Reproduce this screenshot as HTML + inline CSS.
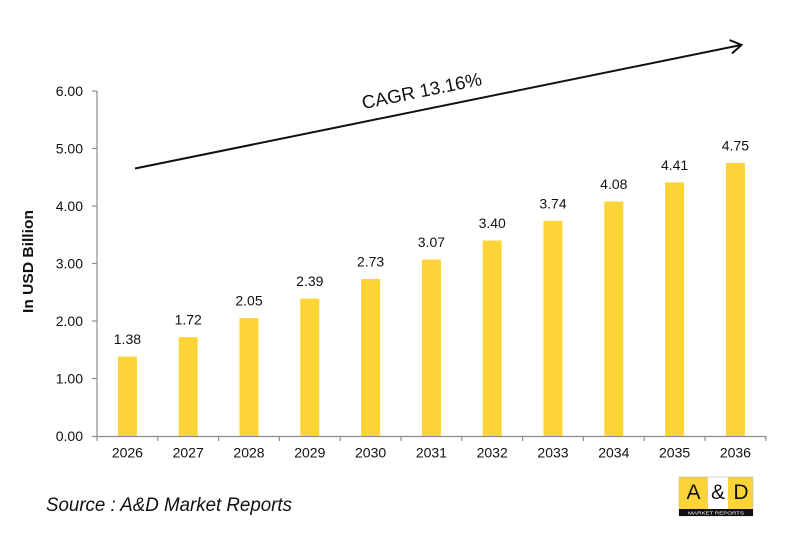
<!DOCTYPE html>
<html>
<head>
<meta charset="utf-8">
<style>
html,body{margin:0;padding:0;background:#fff;}
svg{display:block;}
text{font-family:"Liberation Sans",sans-serif;fill:#111;}
</style>
</head>
<body>
<svg width="800" height="533" viewBox="0 0 800 533" xmlns="http://www.w3.org/2000/svg">
<rect width="800" height="533" fill="#fff"/>
<!-- axes -->
<line x1="97" y1="91" x2="97" y2="436.5" stroke="#8c8c8c" stroke-width="1.2"/>
<line x1="92" y1="436.5" x2="766" y2="436.5" stroke="#8c8c8c" stroke-width="1.2"/>
<g stroke="#8c8c8c" stroke-width="1.2">
<line x1="92" y1="91" x2="97" y2="91"/>
<line x1="92" y1="148.5" x2="97" y2="148.5"/>
<line x1="92" y1="206" x2="97" y2="206"/>
<line x1="92" y1="263.5" x2="97" y2="263.5"/>
<line x1="92" y1="321" x2="97" y2="321"/>
<line x1="92" y1="378.5" x2="97" y2="378.5"/>
<line x1="97" y1="436" x2="97" y2="441"/>
<line x1="157.8" y1="436" x2="157.8" y2="441"/>
<line x1="218.6" y1="436" x2="218.6" y2="441"/>
<line x1="279.4" y1="436" x2="279.4" y2="441"/>
<line x1="340.2" y1="436" x2="340.2" y2="441"/>
<line x1="401" y1="436" x2="401" y2="441"/>
<line x1="461.8" y1="436" x2="461.8" y2="441"/>
<line x1="522.6" y1="436" x2="522.6" y2="441"/>
<line x1="583.4" y1="436" x2="583.4" y2="441"/>
<line x1="644.2" y1="436" x2="644.2" y2="441"/>
<line x1="705" y1="436" x2="705" y2="441"/>
<line x1="765.8" y1="436" x2="765.8" y2="441"/>
</g>
<!-- y tick labels -->
<g font-size="14" text-anchor="end">
<text x="83" y="96">6.00</text>
<text x="83" y="153.5">5.00</text>
<text x="83" y="211">4.00</text>
<text x="83" y="268.5">3.00</text>
<text x="83" y="326">2.00</text>
<text x="83" y="383.5">1.00</text>
<text x="83" y="441">0.00</text>
</g>
<!-- y title -->
<text transform="translate(33,261.5) rotate(-90)" font-size="15" font-weight="bold" text-anchor="middle" textLength="103" lengthAdjust="spacingAndGlyphs">In USD Billion</text>
<!-- bars -->
<g fill="#FDD438">
<rect x="117.9" y="356.6" width="19" height="79.4"/>
<rect x="178.7" y="337.1" width="19" height="98.9"/>
<rect x="239.5" y="318.1" width="19" height="117.9"/>
<rect x="300.3" y="298.6" width="19" height="137.4"/>
<rect x="361.1" y="279.0" width="19" height="157.0"/>
<rect x="421.9" y="259.5" width="19" height="176.5"/>
<rect x="482.7" y="240.5" width="19" height="195.5"/>
<rect x="543.5" y="220.9" width="19" height="215.1"/>
<rect x="604.3" y="201.4" width="19" height="234.6"/>
<rect x="665.1" y="182.4" width="19" height="253.6"/>
<rect x="725.9" y="162.9" width="19" height="273.1"/>
</g>
<!-- value labels -->
<g font-size="14" text-anchor="middle">
<text x="127.4" y="344">1.38</text>
<text x="188.2" y="324.5">1.72</text>
<text x="249" y="305.5">2.05</text>
<text x="309.8" y="286">2.39</text>
<text x="370.6" y="266.5">2.73</text>
<text x="431.4" y="247">3.07</text>
<text x="492.2" y="228">3.40</text>
<text x="553" y="208.5">3.74</text>
<text x="613.8" y="189">4.08</text>
<text x="674.6" y="170">4.41</text>
<text x="735.4" y="150.5">4.75</text>
</g>
<!-- x labels -->
<g font-size="14" text-anchor="middle">
<text x="127.4" y="457.5">2026</text>
<text x="188.2" y="457.5">2027</text>
<text x="249" y="457.5">2028</text>
<text x="309.8" y="457.5">2029</text>
<text x="370.6" y="457.5">2030</text>
<text x="431.4" y="457.5">2031</text>
<text x="492.2" y="457.5">2032</text>
<text x="553" y="457.5">2033</text>
<text x="613.8" y="457.5">2034</text>
<text x="674.6" y="457.5">2035</text>
<text x="735.4" y="457.5">2036</text>
</g>
<!-- CAGR arrow -->
<line x1="135" y1="168.5" x2="741" y2="45" stroke="#111" stroke-width="2"/>
<polyline points="729.5,40 741.5,45 732,53.5" fill="none" stroke="#111" stroke-width="2" stroke-linejoin="miter"/>
<text transform="translate(423,97) rotate(-11.5)" font-size="18.5" text-anchor="middle" textLength="122" lengthAdjust="spacingAndGlyphs">CAGR 13.16%</text>
<!-- source -->
<text x="46" y="511" font-size="19" font-style="italic" textLength="246" lengthAdjust="spacingAndGlyphs">Source : A&amp;D Market Reports</text>
<!-- logo -->
<rect x="679" y="477" width="29" height="32" fill="#FDD438"/>
<rect x="708" y="477" width="20" height="32" fill="#fff"/>
<rect x="728" y="477" width="25" height="32" fill="#FDD438"/>
<rect x="679" y="477" width="74" height="39" fill="none" stroke="#bbb" stroke-width="0.6"/>
<rect x="679" y="509" width="74" height="7" fill="#111"/>
<g font-size="21" text-anchor="middle" style="fill:#000">
<text x="693.5" y="499">A</text>
<text x="718" y="499">&amp;</text>
<text x="741" y="499">D</text>
</g>
<text x="716" y="514.5" font-size="4.6" text-anchor="middle" style="fill:#fff" textLength="56" lengthAdjust="spacingAndGlyphs">MARKET REPORTS</text>
</svg>
</body>
</html>
